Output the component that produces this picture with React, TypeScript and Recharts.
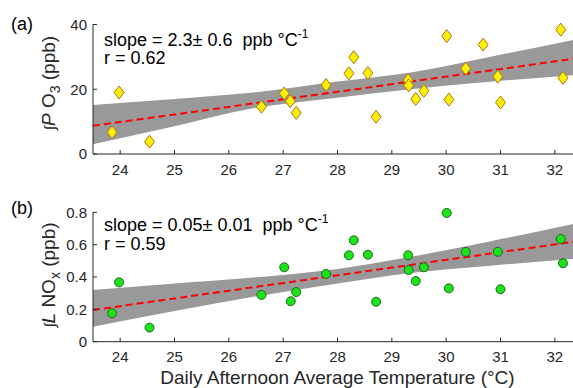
import React from 'react'
import { ComposedChart, Area, Line, Scatter, XAxis, YAxis } from 'recharts'

// daily afternoon average temperature (°C) for each day
const tempsA = [23.85, 23.98, 24.54, 26.6, 27.02, 27.13, 27.24, 27.79, 28.21, 28.3, 28.56, 28.71, 29.3, 29.31, 29.44, 29.59, 30.01, 30.05, 30.36, 30.68, 30.95, 31.0, 32.11, 32.15]
const pO3 = [6.7, 19.0, 3.8, 14.6, 18.7, 16.3, 12.7, 21.3, 24.9, 29.9, 25.0, 11.5, 22.8, 21.2, 17.0, 19.5, 36.4, 16.8, 26.4, 33.8, 23.9, 15.9, 38.4, 23.5]

const tempsB = [23.85, 23.98, 24.54, 26.6, 27.02, 27.14, 27.24, 27.79, 28.21, 28.3, 28.56, 28.71, 29.3, 29.31, 29.44, 29.59, 30.01, 30.05, 30.36, 30.95, 31.0, 32.11, 32.15]
const lNOx = [0.176, 0.367, 0.087, 0.289, 0.46, 0.25, 0.307, 0.419, 0.534, 0.627, 0.538, 0.247, 0.534, 0.443, 0.375, 0.46, 0.796, 0.33, 0.555, 0.556, 0.324, 0.635, 0.485]

// confidence band edges + fit line ends
const bandX = [23.5, 25, 26.4, 28, 29.35, 30.8, 32.5]
const loA = [3.0, 8.6, 14.0, 17.4, 20.0, 22.3, 24.5]
const hiA = [15.1, 17.0, 18.9, 22.4, 25.2, 30.0, 35.8]
const loB = [0.093, 0.19, 0.275, 0.36, 0.425, 0.47, 0.515]
const hiB = [0.32, 0.36, 0.395, 0.45, 0.525, 0.62, 0.74]
const fitA = [8.7, 29.75]
const fitB = [0.196, 0.625]

const xTicks = [24, 25, 26, 27, 28, 29, 30, 31, 32]
const yTicksA = [0, 20, 40]
const yTicksB = [0, 0.2, 0.4, 0.6, 0.8]

const FONT = 'Liberation Sans, Arial, Helvetica, sans-serif'
const INK = '#262626'

const band = (lo: number[], hi: number[], fit: number[]) =>
  bandX.map((x, i) => ({
    x,
    range: [lo[i], hi[i]],
    fit: i === 0 ? fit[0] : i === bandX.length - 1 ? fit[1] : undefined,
  }))

const bandA = band(loA, hiA, fitA)
const bandB = band(loB, hiB, fitB)
const ptsA = tempsA.map((x, i) => ({ x, y: pO3[i] }))
const ptsB = tempsB.map((x, i) => ({ x, y: lNOx[i] }))

const Diamond = (p: any) => (
  <polygon
    points={`${p.cx},${p.cy - 6.5} ${p.cx + 5},${p.cy} ${p.cx},${p.cy + 6.5} ${p.cx - 5},${p.cy}`}
    fill="#FFEF00"
    stroke="#A8741A"
    strokeWidth={1}
  />
)

const Dot = (p: any) => <circle cx={p.cx} cy={p.cy} r={4.5} fill="#18E418" stroke="#256325" strokeWidth={1} />

const tickStyle = { fill: INK, fontSize: 15, fontFamily: FONT }

function Annot({ tag, tagY, slope, err, r, top }: { tag: string; tagY: number; slope: string; err: string; r: string; top: number }) {
  return (
    <g fontFamily={FONT} fill="#000" fontSize={18}>
      <text x={11} y={tagY}>{tag}</text>
      <text x={104} y={top + 21} style={{ whiteSpace: 'pre' }}>
        {`slope = ${slope}± ${err}  ppb °C`}
        <tspan fontSize={12} dy={-8}>-1</tspan>
      </text>
      <text x={104} y={top + 39.5}>{`r = ${r}`}</text>
    </g>
  )
}

function Panel({ which }: { which: 'a' | 'b' }) {
  const isA = which === 'a'
  const height = isA ? 185 : 198
  const xH = isA ? 31 : 46.3
  return (
    <ComposedChart
      width={582}
      height={height}
      data={isA ? bandA : bandB}
      margin={{ top: isA ? 24.5 : 22.3, right: 0, bottom: 0, left: 0 }}
    >
      <XAxis
        dataKey="x"
        type="number"
        domain={[23.5, 32.5]}
        ticks={xTicks}
        height={xH}
        stroke={INK}
        tick={tickStyle}
        tickSize={-4}
        tickMargin={14}
        label={{
          content: () =>
            isA ? null : (
              <text x={337.5} y={194} textAnchor="middle" fontFamily={FONT} fontSize={19} fill={INK}>
                Daily Afternoon Average Temperature (°C)
              </text>
            ),
        }}
      />
      <YAxis
        type="number"
        domain={isA ? [0, 40] : [0, 0.8]}
        ticks={isA ? yTicksA : yTicksB}
        width={93}
        stroke={INK}
        tick={tickStyle}
        tickSize={-4}
        tickMargin={10}
        label={{
          content: () => {
            const cy = isA ? 83 : 85
            return (
              <g>
                <text
                  x={55}
                  y={cy}
                  transform={`rotate(-90, 55, ${cy})`}
                  textAnchor="middle"
                  fontFamily={FONT}
                  fontSize={19}
                  fill={INK}
                  style={{ whiteSpace: 'pre' }}
                >
                  <tspan fontSize={15}>∫</tspan>
                  <tspan fontStyle="italic">{isA ? 'P' : 'L'}</tspan>
                  <tspan>{isA ? ' O' : ' NO'}</tspan>
                  <tspan fontSize={14} dy={5}>{isA ? '3' : 'x'}</tspan>
                  <tspan dy={-5}> (ppb)</tspan>
                </text>
                {isA ? (
                  <Annot tag="(a)" tagY={30} slope="2.3" err="0.6" r="0.62" top={24.5} />
                ) : (
                  <Annot tag="(b)" tagY={24} slope="0.05" err="0.01" r="0.59" top={20} />
                )}
              </g>
            )
          },
        }}
      />
      <Area
        dataKey="range"
        type="monotone"
        stroke="none"
        fill="#999999"
        fillOpacity={1}
        isAnimationActive={false}
        activeDot={false}
      />
      <Scatter
        data={isA ? ptsA : ptsB}
        dataKey="y"
        shape={isA ? Diamond : Dot}
        isAnimationActive={false}
      />
      <Line
        dataKey="fit"
        type="linear"
        connectNulls
        stroke="#FF0000"
        strokeWidth={2}
        strokeDasharray="7 4"
        dot={false}
        activeDot={false}
        isAnimationActive={false}
      />
    </ComposedChart>
  )
}

export default function App() {
  return (
    <div style={{ position: 'absolute', left: 0, top: 0, width: 573, height: 388, overflow: 'hidden', background: '#fff' }}>
      <div style={{ position: 'absolute', left: 0, top: 0 }}>
        <Panel which="a" />
      </div>
      <div style={{ position: 'absolute', left: 0, top: 190 }}>
        <Panel which="b" />
      </div>
    </div>
  )
}
